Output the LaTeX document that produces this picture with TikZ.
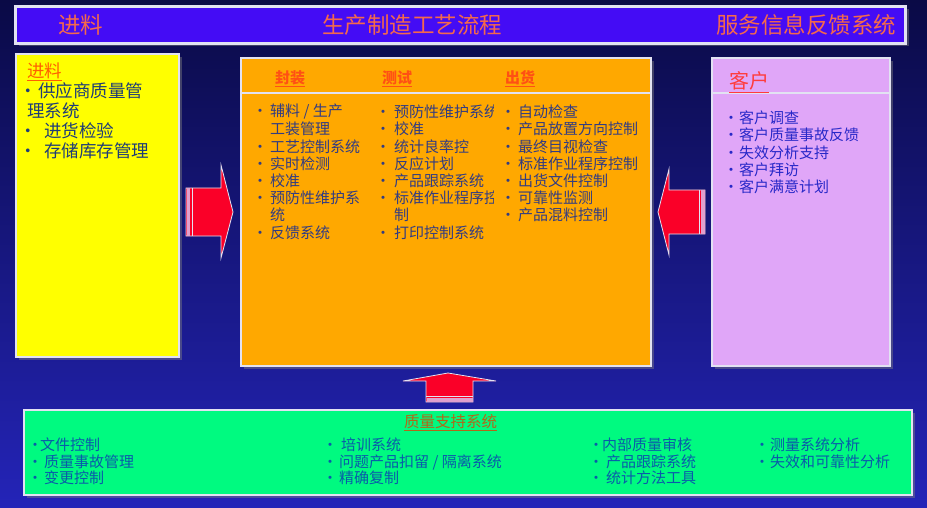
\documentclass[tikz,border=0pt]{standalone}
\usepackage{fontspec}
\newfontfamily\cjk{Noto Sans CJK SC}
\usetikzlibrary{shadows}
\definecolor{bgtop}{RGB}{10,10,70}
\definecolor{bgbot}{RGB}{36,36,184}
\definecolor{rim}{RGB}{226,226,242}
\definecolor{barblue}{RGB}{68,12,245}
\definecolor{titlered}{RGB}{245,105,75}
\definecolor{feedyellow}{RGB}{255,255,0}
\definecolor{procorange}{RGB}{255,168,0}
\definecolor{custpink}{RGB}{224,166,248}
\definecolor{qsgreen}{RGB}{0,250,128}
\definecolor{arrowred}{RGB}{250,0,40}
\definecolor{tailpink}{RGB}{225,160,205}
\definecolor{feedink}{RGB}{30,60,120}
\definecolor{procink}{RGB}{50,60,130}
\definecolor{custink}{RGB}{40,40,200}
\definecolor{qsink}{RGB}{10,90,170}
\definecolor{feedhd}{RGB}{255,96,0}
\definecolor{prochd}{RGB}{255,80,20}
\definecolor{custhd}{RGB}{255,60,60}
\definecolor{qshd}{RGB}{176,104,24}
\newcommand{\bul}[1][10pt]{\makebox[#1][l]{\makebox[0pt]{•}}}
\newcommand{\ind}[1][10pt]{\hspace*{#1}}
\begin{document}
\begin{tikzpicture}[x=1pt,y=-1pt,
    box/.style={draw=rim,line width=2pt,inner sep=0pt,drop shadow={shadow xshift=3pt,shadow yshift=-3pt,opacity=.45}},
    ttl/.style={anchor=west,inner sep=0pt,text=titlered,font=\cjk\fontsize{22.5}{22.5}\selectfont},
    txt/.style={anchor=west,inner sep=0pt,text=#1,font=\cjk\fontsize{15}{15}\selectfont},
    hd/.style={anchor=west,inner sep=0pt,text=#1,font=\cjk\fontsize{15}{15}\selectfont\bfseries},
    big/.style={anchor=west,inner sep=0pt,text=#1,font=\cjk\fontsize{17.5}{17.5}\selectfont},
    divider/.style={draw=rim,line width=2pt},
    blockarrow/.style={fill=arrowred,draw=rim,line width=.8pt,line join=miter},
    stripe/.style={draw=rim,line width=1pt}]
    \shade[top color=bgtop,bottom color=bgbot] (0,0) rectangle (927,508);
    \useasboundingbox (0,0) rectangle (927,508);

    \node[box,fill=barblue,line width=3pt,minimum width=890pt,minimum height=37pt] (bar) at (460.5,25) {};
    \node[ttl] (barl) at (58,25) {进料};
    \node[ttl] (barm) at (322,25) {生产制造工艺流程};
    \node[ttl] (barr) at (716,25) {服务信息反馈系统};

    \node[box,fill=feedyellow,minimum width=163pt,minimum height=303pt] (feed) at (97.5,205.5) {};
    \node[box,fill=procorange,minimum width=410pt,minimum height=308pt] (proc) at (446,212) {};
    \node[box,fill=custpink,minimum width=178pt,minimum height=308pt] (cust) at (801,212) {};
    \node[box,fill=qsgreen,minimum width=888pt,minimum height=85pt] (qs) at (468,452.5) {};
    \draw[divider] ([yshift=119pt]proc.west) -- ([yshift=119pt]proc.east);
    \draw[divider] ([yshift=119pt]cust.west) -- ([yshift=119pt]cust.east);

    \draw[blockarrow] (186,188) -- (221,188) -- (221,165) -- (233,212) -- (221,258) -- (221,236) -- (186,236) -- cycle;
    \fill[tailpink] (186.5,188.5) rectangle (190,235.5);
    \draw[stripe] (192,188) -- (192,236);
    \draw[blockarrow] (705,190) -- (669,190) -- (669,169) -- (658,212) -- (669,255) -- (669,234) -- (705,234) -- cycle;
    \fill[tailpink] (704.5,190.5) rectangle (701,233.5);
    \draw[stripe] (699,190) -- (699,234);
    \draw[blockarrow] (426,402) -- (426,381) -- (403,381) -- (448,373) -- (496,381) -- (473,381) -- (473,402) -- cycle;
    \fill[tailpink] (426.5,401.5) rectangle (472.5,398);
    \draw[stripe] (426,396) -- (473,396);

    \node[big=feedhd] (feedhd) at (27,72) {\underline{进料}};
    \node[big=feedink] (feed1) at (28,91) {\bul 供应商质量管};
    \node[big=feedink] (feed2) at (27,111) {理系统};
    \node[big=feedink] (feed3) at (28,131) {\bul[16pt]进货检验};
    \node[big=feedink] (feed4) at (28,151) {\bul[16pt]存储库存管理};

    \node[hd=prochd] (hd1) at (275,79) {\underline{封装}};
    \node[hd=prochd] (hd2) at (382,79) {\underline{测试}};
    \node[hd=prochd] (hd3) at (505,79) {\underline{出货}};
    \foreach \t [count=\i] in {\bul 辅料 / 生产,\ind 工装管理,\bul 工艺控制系统,\bul 实时检测,\bul 校准,\bul 预防性维护系,\ind 统,\bul 反馈系统}
        \node[txt=procink] (pack-\i) at (260,{112+17.2*(\i-1)}) {\t};
    \begin{scope}
        \clip (375,100) rectangle (493,245);
        \foreach \t [count=\i] in {\bul[11pt]预防性维护系统,\bul[11pt]校准,\bul[11pt]统计良率控,\bul[11pt]反应计划,\bul[11pt]产品跟踪系统,\bul[11pt]标准作业程序控,\ind[11pt]制,\bul[11pt]打印控制系统}
            \node[txt=procink] (test-\i) at (383,{112+17.2*(\i-1)}) {\t};
    \end{scope}
    \foreach \t [count=\i] in {自动检查,产品放置方向控制,最终目视检查,标准作业程序控制,出货文件控制,可靠性监测,产品混料控制}
        \node[txt=procink] (ship-\i) at (508,{112+17.2*(\i-1)}) {\bul\t};

    \node[anchor=west,inner sep=0pt,text=custhd,font=\cjk\fontsize{20}{20}\selectfont] (custhd) at (729,82) {\underline{客户}};
    \foreach \t [count=\i] in {客户调查,客户质量事故反馈,失效分析支持,客户拜访,客户满意计划}
        \node[txt=custink] (cust-\i) at (731,{118+17.2*(\i-1)}) {\bul[8pt]\t};

    \node[anchor=center,inner sep=0pt,text=qshd,font=\cjk\fontsize{15.5}{15.5}\selectfont] (qshd) at (450.5,423) {\underline{质量支持系统}};
    \node[txt=qsink] (qs1) at (35,445) {\bul[5pt]文件控制};
    \node[txt=qsink] (qs2) at (35,462) {\bul[9pt]质量事故管理};
    \node[txt=qsink] (qs3) at (35,478) {\bul[9pt]变更控制};
    \node[txt=qsink] (qs4) at (330,445) {\bul[11pt]培训系统};
    \node[txt=qsink] (qs5) at (330,462) {\bul[9pt]问题产品扣留 / 隔离系统};
    \node[txt=qsink] (qs6) at (330,478) {\bul[9pt]精确复制};
    \node[txt=qsink] (qs7) at (596,445) {\bul[6pt]内部质量审核};
    \node[txt=qsink] (qs8) at (596,462) {\bul[10pt]产品跟踪系统};
    \node[txt=qsink] (qs9) at (596,478) {\bul[10pt]统计方法工具};
    \node[txt=qsink] (qs10) at (762,445) {\bul[8pt]测量系统分析};
    \node[txt=qsink] (qs11) at (762,462) {\bul[8pt]失效和可靠性分析};
\end{tikzpicture}
\end{document}
